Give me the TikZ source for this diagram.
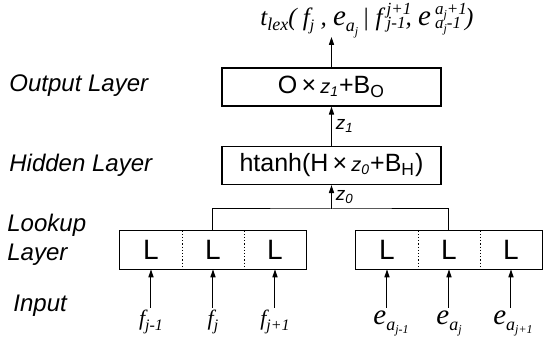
\documentclass[tikz,border=0pt]{standalone}
\usepackage{fontspec}
\setmainfont{Liberation Serif}
\setsansfont{Liberation Sans}
\usetikzlibrary{arrows.meta,positioning,calc}
\definecolor{Ink}{HTML}{000000}

\tikzset{
  layername/.style={anchor=west,align=left,inner sep=0pt,font=\sffamily\itshape\fontsize{12}{14.5}\selectfont},
  layerbox/.style={draw=Ink,line width=0.6pt,minimum width=109.5pt,minimum height=19pt,inner sep=0pt,font=\sffamily\fontsize{12.5}{14}\selectfont},
  lookcell/.style={minimum width=31pt,minimum height=19pt,inner sep=0pt,font=\sffamily\fontsize{14}{14}\selectfont},
  feed/.style={-{Triangle[length=4pt,width=2.6pt]},draw=Ink,line width=0.5pt},
  hidvar/.style={right,inner sep=2pt,font=\sffamily\itshape\fontsize{9.5}{10}\selectfont},
  word/.style={anchor=north,inner sep=1pt,font=\itshape\fontsize{11}{12}\selectfont}
}
\newcommand{\ebig}{{\fontsize{14.5}{14}\selectfont e}}
\newcommand{\lowj}[1]{\raisebox{-1.8pt}{\fontsize{6}{6}\selectfont #1}}
\newcommand{\lowa}[1]{\raisebox{-3pt}{\fontsize{9}{9}\selectfont #1}}
\newcommand{\lowf}[1]{\raisebox{-2.5pt}{\fontsize{8}{8}\selectfont #1}}
\newcommand{\stk}[2]{\rlap{\raisebox{5.6pt}{\fontsize{8.5}{9}\selectfont #1}}\raisebox{-1.4pt}{\fontsize{8.5}{9}\selectfont #2}}

\begin{document}
\begin{tikzpicture}[x=0.5pt,y=-0.5pt]
\useasboundingbox (0,0) rectangle (543,342);
\node[layername] (lout) at (9,86) {Output Layer};
\node[layername] (lhid) at (9,165) {Hidden Layer};
\node[layername] (llook) at (7,240) {Lookup\\Layer};
\node[layername] (lin) at (13,306) {Input};

\node[anchor=base west,inner sep=0pt,font=\itshape\fontsize{12.5}{14}\selectfont] (tlex) at (260,26)
  {t\raisebox{-2.5pt}{\fontsize{9}{9}\selectfont lex}( f\lowf{j} , \ebig\lowa{a\lowj{j}}\,| f\,\stk{j+1}{j-1}, \ebig\,\stk{a\lowj{j}+1}{a\lowj{j}-1}\,)};
\coordinate (ttip) at (331.5,37);
\node[layerbox] (out) at (331.5,87) {O\,×\,{\itshape\fontsize{10}{10}\selectfont z\textsubscript{1}}+B\textsubscript{O}};
\node[layerbox] (hid) at (331.5,165.5) {htanh(H\,×\,{\itshape\fontsize{10}{10}\selectfont z\textsubscript{0}}+B\textsubscript{H})};

\foreach \i/\x in {1/151,2/213,3/275} \node[lookcell] (fl\i) at (\x,250) {L};
\foreach \i/\x in {1/387,2/449,3/511} \node[lookcell] (el\i) at (\x,250) {L};
\foreach \g in {fl,el} {\draw[Ink,line width=0.6pt] (\g1.north west) rectangle (\g3.south east);
  \foreach \i in {1,2} \draw[Ink,densely dotted,line width=0.6pt] (\g\i.north east) -- (\g\i.south east);}

\node[word] (fin1) at (151,308) {f\lowf{j-1}};
\node[word] (fin2) at (213,308) {f\lowf{j}};
\node[word] (fin3) at (275,308) {f\lowf{j+1}};
\node[word] (ein1) at (391,308) {\ebig\lowa{a\lowj{j-1}}};
\node[word] (ein2) at (449,308) {\ebig\lowa{a\lowj{j}}};
\node[word] (ein3) at (513,308) {\ebig\lowa{a\lowj{j+1}}};
\foreach \i in {1,2,3} {\draw[feed] (fin\i.north) -- (fl\i.south); \draw[feed] (ein\i.north -| el\i.south) -- (el\i.south);}

\coordinate (join) at (331.5,209);
\draw[Ink,line width=0.5pt] (fl2.north) |- (join) -| (el2.north);
\draw[feed] (join) -- (hid.south) node[hidvar,midway] {z\textsubscript{0}};
\draw[feed] (hid.north) -- (out.south) node[hidvar,midway] {z\textsubscript{1}};
\draw[feed] (out.north) -- (ttip);
\end{tikzpicture}
\end{document}
